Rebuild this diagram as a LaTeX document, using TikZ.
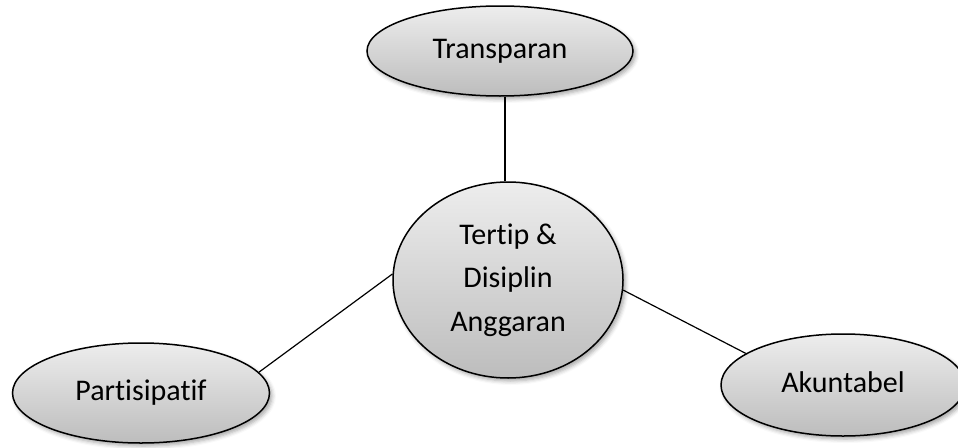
\documentclass[tikz,border=0pt]{standalone}
\usepackage{fontspec}
\setmainfont{Carlito}[Ligatures=NoCommon]
\usetikzlibrary{shapes.geometric,shadows.blur}
\tikzset{
  oval/.style={ellipse, draw=black, line width=1.5pt, inner sep=0pt,
    top color=white!93!black, bottom color=white!74!black,
    blur shadow={shadow xshift=2.5pt, shadow yshift=-3pt, shadow blur radius=4pt, shadow opacity=35},
    font=\fontsize{30}{43.5}\selectfont, align=center},
  link/.style={draw=black, line width=1.2pt}
}
\begin{document}
\begin{tikzpicture}[x=1pt,y=-1pt]
\useasboundingbox (0,0) rectangle (958,447);
\node[oval, minimum width=266pt, minimum height=90pt] (T) at (500,51) {Transparan};
\node[oval, minimum width=230pt, minimum height=196pt] (C) at (508,280) {Tertip \&\\Disiplin\\Anggaran};
\node[oval, minimum width=257pt, minimum height=100pt] (P) at (141,393) {Partisipatif};
\node[oval, minimum width=244pt, minimum height=102pt] (A) at (843,385) {\raisebox{5pt}{Akuntabel}};
\draw[link] (C.north -| 505,0) -- (T.south -| 505,0);
\draw[link] (P.10.7) -- (C.177);
\draw[link] (C.-5.5) -- (A.162.6);
\end{tikzpicture}
\end{document}
